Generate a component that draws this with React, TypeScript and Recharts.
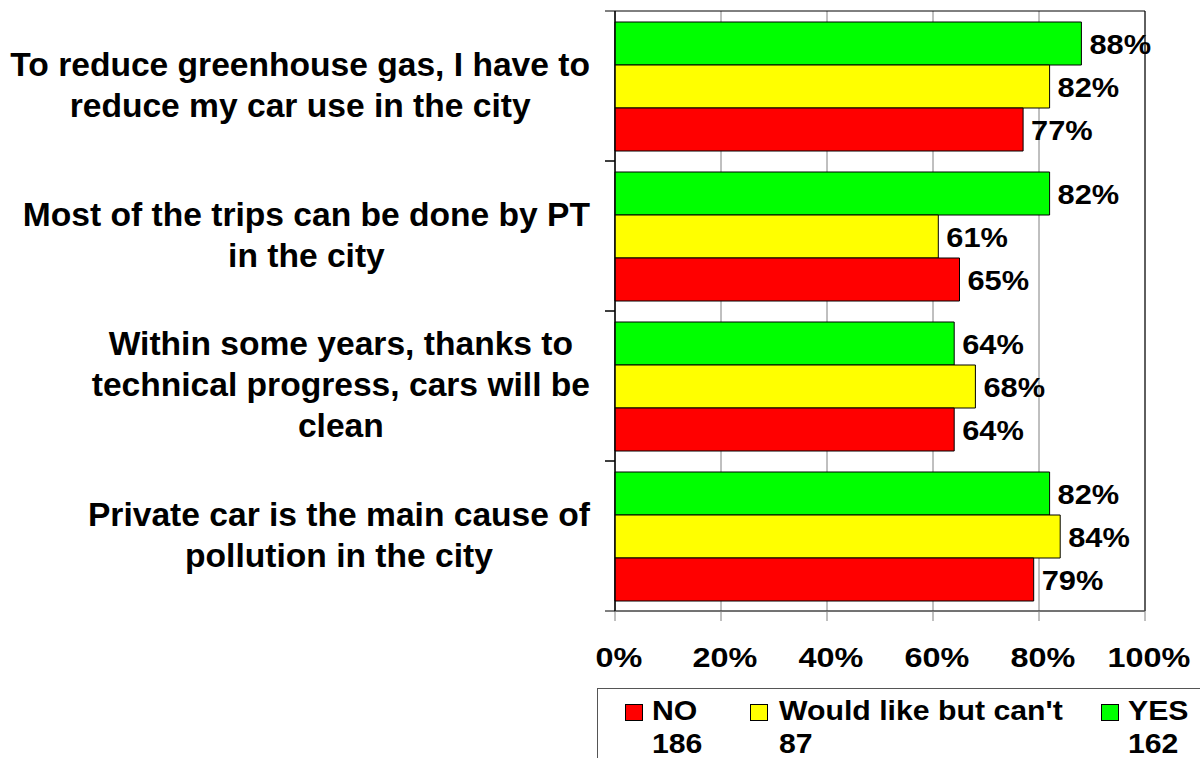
import { BarChart, Bar, XAxis, YAxis, CartesianGrid, LabelList, ReferenceArea } from "recharts";

const categories = [
  "To reduce greenhouse gas, I have to\nreduce my car use in the city",
  "Most of the trips can be done by PT\nin the city",
  "Within some years, thanks to\ntechnical progress, cars will be\nclean",
  "Private car is the main cause of\npollution in the city",
];
const yesValues = [88, 82, 64, 82];
const wouldValues = [82, 61, 68, 84];
const noValues = [77, 65, 64, 79];
const xTicks = [0, 20, 40, 60, 80, 100];

const seriesNames = ["NO", "Would like but can't", "YES"];
const seriesCounts = [186, 87, 162];
const seriesColors = ["#ff0000", "#ffff00", "#00ff00"];

const data = categories.map((name, i) => ({
  name,
  no: noValues[i],
  would: wouldValues[i],
  yes: yesValues[i],
}));

const W = 1200;
const H = 758;
const M = { top: 11, right: 55, left: 0, bottom: 107 };
const X_AXIS_H = 40;
const Y_AXIS_W = 615;
const BAND = (H - M.top - M.bottom - X_AXIS_H) / categories.length;

const FONT = "'Liberation Sans', Arial, Helvetica, sans-serif";

let ctx: CanvasRenderingContext2D | null = null;
function textWidth(s: string, font: string) {
  if (!ctx) ctx = document.createElement("canvas").getContext("2d");
  if (!ctx) return s.length * 16;
  ctx.font = font;
  return ctx.measureText(s).width;
}

const CategoryTick = ({ x, y, payload }: any) => {
  const lines = String(payload.value).split("\n");
  const size = 33.6;
  const lh = 41;
  const maxW = Math.max(...lines.map((l) => textWidth(l, `bold ${size}px ${FONT}`)));
  const cx = x - 15 - maxW / 2;
  const top = y - ((lines.length - 1) * lh) / 2;
  return (
    <g>
      <line x1={x} x2={x + 10} y1={y - BAND / 2} y2={y - BAND / 2} stroke="#000" />
      <line x1={x} x2={x + 10} y1={y + BAND / 2} y2={y + BAND / 2} stroke="#000" />
      {lines.map((l, i) => (
        <text
          key={i}
          x={cx}
          y={top + i * lh + size * 0.3}
          textAnchor="middle"
          fontSize={size}
          fontWeight="bold"
          fontFamily={FONT}
          fill="#000"
        >
          {l}
        </text>
      ))}
    </g>
  );
};

const PercentTick = ({ x, y, payload }: any) => (
  <text
    transform={`translate(${x + 4},${y + 46}) scale(1.2,1)`}
    textAnchor="middle"
    fontSize={27}
    fontWeight="bold"
    fontFamily={FONT}
    fill="#000"
  >
    {payload.value}%
  </text>
);

const BarValue = (props: any) => {
  const vb = props.viewBox ?? props;
  const { x, y, width, height } = vb;
  return (
    <text
      transform={`translate(${x + width + 8},${y + height / 2 + 10}) scale(1.1,1)`}
      fontSize={28}
      fontWeight="bold"
      fontFamily={FONT}
      fill="#000"
    >
      {props.value}%
    </text>
  );
};

const legendSquareX = [625, 750, 1101];
const legendTextX = [652, 779, 1128];

function LegendBox() {
  return (
    <svg width={W} height={H} style={{ position: "absolute", left: 0, top: 0, pointerEvents: "none" }}>
      <rect x={597.5} y={688.5} width={640} height={100} fill="#fff" stroke="#555" />
      {seriesNames.map((n, i) => (
        <g key={n}>
          <rect x={legendSquareX[i] + 0.5} y={704.5} width={17} height={16} fill={seriesColors[i]} stroke="#000" />
          <text
            transform={`translate(${legendTextX[i]},720) scale(1.12,1)`}
            fontSize={27}
            fontWeight="bold"
            fontFamily={FONT}
            fill="#000"
          >
            {n}
          </text>
          <text
            transform={`translate(${legendTextX[i]},753) scale(1.12,1)`}
            fontSize={27}
            fontWeight="bold"
            fontFamily={FONT}
            fill="#000"
          >
            {seriesCounts[i]}
          </text>
        </g>
      ))}
    </svg>
  );
}

export default function App() {
  return (
    <div style={{ position: "absolute", left: 0, top: 0, width: W, height: H, background: "#fff" }}>
      <BarChart width={W} height={H} data={data} layout="vertical" margin={M} barGap={0} barSize={43}>
        <CartesianGrid horizontal={false} stroke="#808080" />
        <ReferenceArea x1={0} x2={100} fill="none" stroke="#000" />
        <XAxis
          type="number"
          domain={[0, 100]}
          ticks={xTicks}
          interval={0}
          height={X_AXIS_H}
          tickSize={10}
          tickMargin={0}
          tickLine={{ stroke: "#808080" }}
          axisLine={{ stroke: "#666" }}
          tick={<PercentTick />}
        />
        <YAxis
          type="category"
          dataKey="name"
          width={Y_AXIS_W}
          interval={0}
          tickSize={10}
          tickMargin={0}
          tickLine={false}
          axisLine={{ stroke: "#000" }}
          tick={<CategoryTick />}
        />
        <Bar dataKey="yes" name={seriesNames[2]} fill={seriesColors[2]} stroke="#000" strokeWidth={1} isAnimationActive={false}>
          <LabelList dataKey="yes" content={<BarValue />} />
        </Bar>
        <Bar dataKey="would" name={seriesNames[1]} fill={seriesColors[1]} stroke="#000" strokeWidth={1} isAnimationActive={false}>
          <LabelList dataKey="would" content={<BarValue />} />
        </Bar>
        <Bar dataKey="no" name={seriesNames[0]} fill={seriesColors[0]} stroke="#000" strokeWidth={1} isAnimationActive={false}>
          <LabelList dataKey="no" content={<BarValue />} />
        </Bar>
      </BarChart>
      <LegendBox />
    </div>
  );
}
